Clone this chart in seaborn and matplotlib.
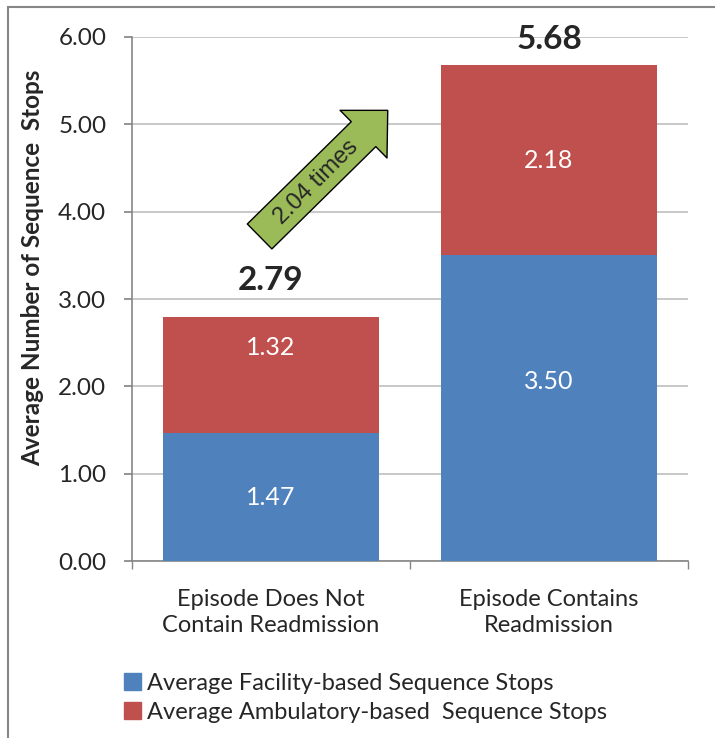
import matplotlib
matplotlib.use("Agg")
import matplotlib.pyplot as plt
import numpy as np
import pandas as pd
import seaborn as sns
from matplotlib.patches import Rectangle

categories = ["Episode Does Not\nContain Readmission", "Episode Contains\nReadmission"]
facility = [1.47, 3.50]
ambulatory = [1.32, 2.18]
series_names = ["Average Facility-based Sequence Stops",
                "Average Ambulatory-based  Sequence Stops"]
ratio_text = "2.04 times"

totals = [f + a for f, a in zip(facility, ambulatory)]
df = pd.DataFrame({"category": categories, "facility": facility,
                   "ambulatory": ambulatory, "total": totals})

BLUE = "#4F81BD"
RED = "#C0504D"
GREEN = "#9BBB59"
GRID = "#BFBFBF"
AXIS = "#868686"
CAL = ["Lato", "DejaVu Sans"]
ARIAL = ["Liberation Sans", "DejaVu Sans"]

sns.set_theme(style="white")
plt.rcParams["font.family"] = CAL

fig = plt.figure(figsize=(7.15, 7.38), dpi=100)
ax = fig.add_axes([0.1846, 0.2398, 0.7776, 0.7101])

# stacked: totals in red underneath, facility in blue on top
sns.barplot(data=df, x="category", y="total", color=RED, width=0.78,
            saturation=1, linewidth=0, ax=ax, zorder=3)
sns.barplot(data=df, x="category", y="facility", color=BLUE, width=0.78,
            saturation=1, linewidth=0, ax=ax, zorder=3)

ax.set_ylim(0, 6)
ax.set_xlim(-0.5, 1.5)
ax.set_yticks(np.arange(0, 7, 1))
ax.set_yticklabels([f"{v:.2f}" for v in np.arange(0, 7, 1)], fontsize=17.5)
ax.set_xticks([0, 1])
ax.set_xticklabels(categories, fontsize=17, linespacing=1.32)
ax.set_xticks([-0.5, 0.5, 1.5], minor=True)
ax.tick_params(axis="x", which="major", length=0, pad=20)
ax.tick_params(axis="x", which="minor", length=5.5, color=AXIS, direction="out", bottom=True)
ax.tick_params(axis="y", length=5.5, color=AXIS, direction="out", left=True, pad=13)
ax.yaxis.grid(True, color=GRID, linewidth=1.2, zorder=0)
ax.set_axisbelow(True)
for s in ["top", "right"]:
    ax.spines[s].set_visible(False)
for s in ["left", "bottom"]:
    ax.spines[s].set_color(AXIS)
    ax.spines[s].set_linewidth(1.2)
ax.set_xlabel("")
ax.set_ylabel("Average Number of Sequence  Stops", fontsize=17.5, fontweight="bold")
ax.yaxis.set_label_coords(-0.158, 0.559)

# segment value labels (white)
fac_label_y = [0.73, 2.06]
amb_label_y = [2.44, 4.59]
for i in range(len(categories)):
    ax.text(i, fac_label_y[i], f"{facility[i]:.2f}", color="white", ha="center",
            va="center", fontsize=18, zorder=4)
    ax.text(i, amb_label_y[i], f"{ambulatory[i]:.2f}", color="white", ha="center",
            va="center", fontsize=18, zorder=4)

# totals above bars
total_offsets = [20, 11.5]
for i, t in enumerate(totals):
    ax.annotate(f"{t:.2f}", xy=(i, t), xytext=(0, total_offsets[i]),
                textcoords="offset points", ha="center", va="baseline",
                fontsize=24, fontweight="bold", annotation_clip=False)

# green growth arrow
ax.annotate("", xy=(0.42, 5.16), xytext=(-0.041, 3.716),
            arrowprops=dict(arrowstyle="simple,head_length=0.97,head_width=1.91,tail_width=1.0",
                            mutation_scale=25.2, fc=GREEN, ec="black", lw=1,
                            shrinkA=0, shrinkB=0), zorder=5)
ax.text(0.162, 4.34, ratio_text, rotation=45, ha="center", va="center",
        fontsize=17, family=ARIAL, rotation_mode="anchor", zorder=6)

# legend
handles = [Rectangle((0, 0), 1, 1, color=BLUE), Rectangle((0, 0), 1, 1, color=RED)]
fig.legend(handles, series_names, loc="upper left", bbox_to_anchor=(0.173, 0.088),
           frameon=False, fontsize=17, handlelength=0.75, handleheight=0.75,
           handletextpad=0.25, labelspacing=0.33, borderaxespad=0, borderpad=0)

# outer chart border
fig.patches.append(Rectangle((8 / 715, -0.05), 1.0, (738 - 7) / 738 + 0.05,
                             transform=fig.transFigure, fill=False,
                             edgecolor=AXIS, linewidth=1.5))

fig.savefig("out.png", dpi=100)
